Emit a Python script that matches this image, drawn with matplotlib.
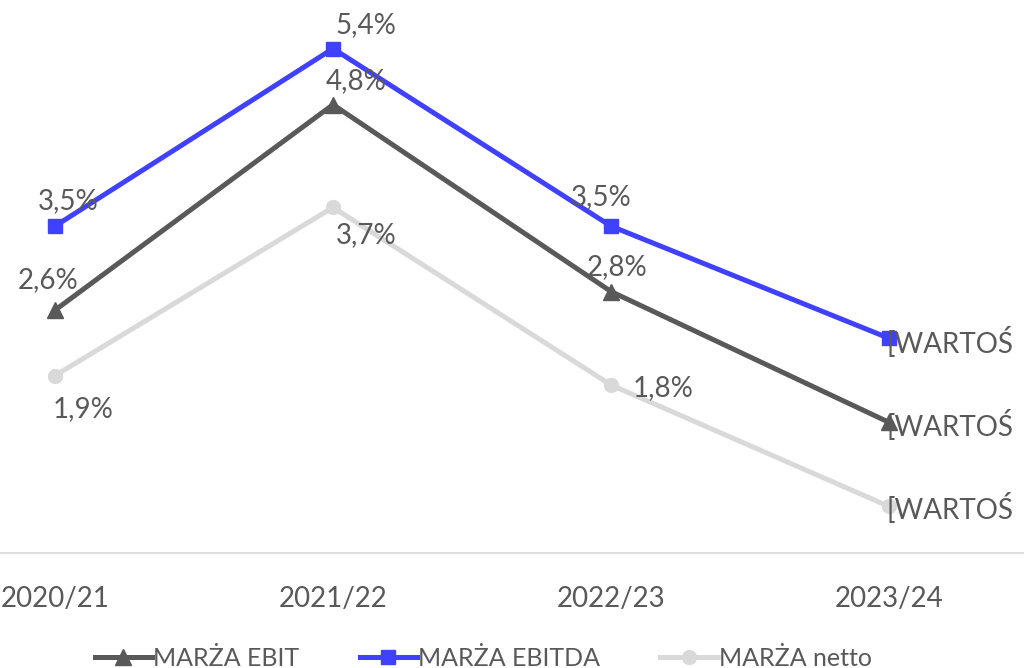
import matplotlib
matplotlib.use("Agg")
import matplotlib.pyplot as plt

plt.rcParams['font.family'] = ['Lato', 'DejaVu Sans']

# data
years = ["2020/21", "2021/22", "2022/23", "2023/24"]
ebit = [2.6, 4.8, 2.8, 1.4]
ebitda = [3.5, 5.4, 3.5, 2.3]
netto = [1.9, 3.7, 1.8, 0.5]
# last labels are cut off in the source chart
labels_ebit = ["2,6%", "4,8%", "2,8%", "[WARTOŚ"]
labels_ebitda = ["3,5%", "5,4%", "3,5%", "[WARTOŚ"]
labels_netto = ["1,9%", "3,7%", "1,8%", "[WARTOŚ"]

c_ebit = "#595959"
c_ebitda = "#4040FF"
c_netto = "#D9D9D9"
txt = "#595959"

fig = plt.figure(figsize=(10.24, 6.68), dpi=100)
ax = fig.add_axes([0, 0.172, 1, 0.828])

x = range(len(years))
ax.plot(x, ebit, color=c_ebit, lw=3.6, marker="^", ms=11, label="MARŻA EBIT")
ax.plot(x, ebitda, color=c_ebitda, lw=3.6, marker="s", ms=10, label="MARŻA EBITDA")
ax.plot(x, netto, color=c_netto, lw=3.6, marker="o", ms=10, label="MARŻA netto")

# label offsets in pixels (dx, dy)
off_ebitda = [(13, 25), (33, 24), (-10, 29), (-2, -4)]
off_ebit = [(-7, 30), (23, 24), (6, 24), (-2, -3)]
off_netto = [(28, -33), (33, -28), (52, -3), (-2, -2)]

for vals, labs, offs in [(ebitda, labels_ebitda, off_ebitda),
                         (ebit, labels_ebit, off_ebit),
                         (netto, labels_netto, off_netto)]:
    for i, (v, s, o) in enumerate(zip(vals, labs, offs)):
        ha = "left" if i == 3 else "center"
        ax.annotate(s, (i, v), xytext=o, textcoords="offset pixels",
                    ha=ha, va="center", fontsize=20, color=txt,
                    annotation_clip=False)

ax.set_xlim(-0.198, 3.486)
ax.set_ylim(0, 5.92)
ax.set_xticks(list(x))
ax.set_xticklabels(years, fontsize=20, color=txt)
ax.tick_params(axis="x", length=0, pad=24)
ax.set_yticks([])
for sp in ["top", "left", "right"]:
    ax.spines[sp].set_visible(False)
ax.spines["bottom"].set_color("#D9D9D9")
ax.spines["bottom"].set_linewidth(1.2)

leg = fig.legend(loc="lower center", bbox_to_anchor=(0.472, -0.036), ncol=3,
                 frameon=False, fontsize=18, handlelength=2.3,
                 columnspacing=2.4, handletextpad=0.05)
for t in leg.get_texts():
    t.set_color(txt)

fig.savefig("out.png", dpi=100)
